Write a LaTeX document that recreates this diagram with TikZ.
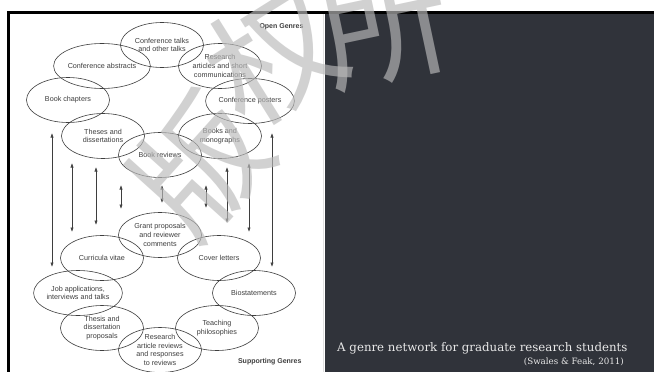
\documentclass[tikz,border=0pt]{standalone}
\usepackage{fontspec}
\newfontfamily\diagfont{Liberation Sans}
\newfontfamily\capfont{DejaVu Serif}
\newfontfamily\cjkfont{Noto Sans CJK SC}
\usetikzlibrary{arrows.meta,shapes.geometric}

\definecolor{panel}{RGB}{48,51,58}
\definecolor{ink}{RGB}{62,62,62}
\definecolor{captext}{RGB}{232,232,232}
\definecolor{wmark}{RGB}{186,186,186}

\begin{document}
\begin{tikzpicture}[x=1pt,y=-1pt,
  genre/.style={ellipse, draw=ink, line width=0.6pt, minimum width=83pt,
    minimum height=45pt, inner sep=0pt, align=center, text=ink,
    font=\diagfont\fontsize{7.2}{8.8}\selectfont},
  tag/.style={font=\diagfont\bfseries\fontsize{7}{8}\selectfont, text=ink},
  link/.style={{Latex[length=4.5pt,width=3.2pt]}-{Latex[length=4.5pt,width=3.2pt]},
    line width=0.55pt, draw=ink},
  stampchar/.style={inner sep=0pt, text=wmark, text opacity=0.66,
    font=\cjkfont\fontsize{130}{130}\selectfont}]

\useasboundingbox (0,0) rectangle (654,372);
\fill[white] (0,0) rectangle (654,372);

% dark caption panel and black frame
\fill[panel] (325,14) rectangle (654,372);
\draw[black!12, line width=0.6pt] (323,14) -- (323,372);
\fill[black] (7,11) rectangle (654,14);
\fill[black] (7,11) rectangle (10,372);

% open genres
\node[genre] (talks)     at (162,45)  {Conference talks\\and other talks};
\node[genre] (abstracts) at (102,66)  {Conference abstracts};
\node[genre] (articles)  at (220,66)  {Research\\articles and short\\communications};
\node[genre] (chapters)  at (68,100)  {Book chapters};
\node[genre] (posters)   at (250,101) {Conference posters};
\node[genre] (theses)    at (103,136) {Theses and\\dissertations};
\node[genre] (books)     at (220,136) {Books and\\monographs};
\node[genre] (reviews)   at (160,155) {Book reviews};

% supporting genres
\node[genre] (grants)    at (160,235) {Grant proposals\\and reviewer\\comments};
\node[genre] (cv)        at (102,258) {Curricula vitae};
\node[genre] (cover)     at (219,258) {Cover letters};
\node[genre] (jobs)      at (78,293)  {Job applications,\\interviews and talks};
\node[genre] (bio)       at (254,293) {Biostatements};
\node[genre] (proposals) at (102,328) {Thesis and\\dissertation\\proposals};
\node[genre] (teaching)  at (217,328) {Teaching\\philosophies};
\node[genre] (artrev)    at (160,350) {Research\\article reviews\\and responses\\to reviews};

\node[tag, anchor=base east] (opentag) at (307,28)  {Open Genres};
\node[tag, anchor=base east] (supptag) at (305,363) {Supporting Genres};

% two-way links between the two groups
\foreach \i/\x/\t/\b in {1/52/133/267, 2/72/163/232, 3/96/167/225,
                         4/121/185/209, 5/162/185/203, 6/206/185/208,
                         7/227/167/223, 8/249/163/232, 9/272/133/267} {
  \coordinate (up\i) at (\x,\t);
  \coordinate (dn\i) at (\x,\b);
  \draw[link] (up\i) -- (dn\i);
}

% caption
\node[anchor=base west, inner sep=0pt, text=captext,
      font=\capfont\fontsize{11.8}{14}\selectfont] (caption) at (337,351)
      {A genre network for graduate research students};
\node[anchor=base east, inner sep=0pt, text=captext,
      font=\capfont\fontsize{8.7}{10}\selectfont] (cite) at (624,364)
      {(Swales \& Feak, 2011)};

% watermark characters set along a curve
\begin{scope}
  \clip (0,0) rectangle (654,372);
  \node[stampchar, rotate=48] (wm1) at (200,165) {版};
  \node[stampchar, rotate=32] (wm2) at (275,55)  {权};
  \node[stampchar, rotate=12] (wm3) at (385,25)  {所};
\end{scope}
\end{tikzpicture}
\end{document}
